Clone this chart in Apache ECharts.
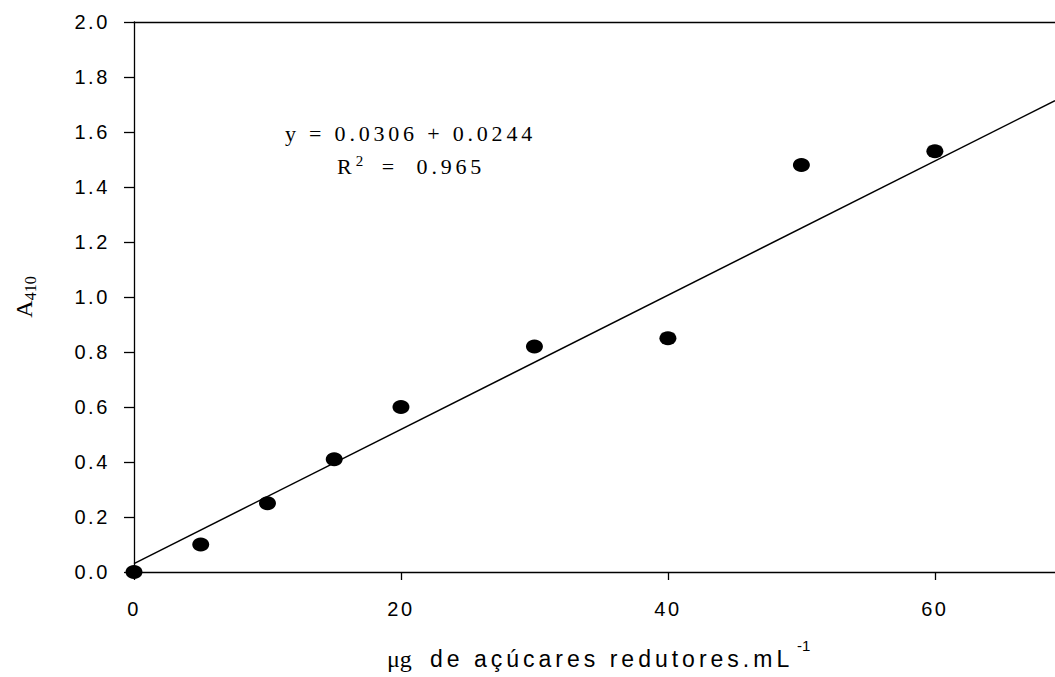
<!DOCTYPE html>
<html>
<head>
<meta charset="utf-8">
<script src="https://cdn.jsdelivr.net/npm/echarts@6/dist/echarts.min.js"></script>
<style>
  html, body { margin: 0; padding: 0; background: #fff; }
  #chart { width: 1055px; height: 677px; }
  /* espacamento entre letras, como no original */
  #chart svg text[style*="20px"] { letter-spacing: 2.6px; }
  #chart svg text[style*="23px"] { letter-spacing: 4px; }
  #chart svg text[style*="22px"] { letter-spacing: 3.8px; }
</style>
</head>
<body>
<div id="chart"></div>
<script>
// concentracao (ug/mL) e absorbancia medida
var conc = [0, 5, 10, 15, 20, 30, 40, 50, 60];
var absorb = [0.0, 0.10, 0.25, 0.41, 0.60, 0.82, 0.85, 1.48, 1.53];

// reta ajustada (pontos extremos)
var fitX = [0, 69];
var fitY = [0.0306, 1.714];

var xTicks = [0, 20, 40, 60];

var myChart = echarts.init(document.getElementById('chart'), null, { renderer: 'svg' });

var option = {
    animation: false,
    backgroundColor: '#fff',
    grid: { left: 134, right: 0, top: 22, bottom: 105 },
    xAxis: [{
        type: 'value',
        min: 0,
        max: 69,
        splitLine: { show: false },
        axisLine: { lineStyle: { color: '#000', width: 1.3 } },
        axisTick: { customValues: xTicks, length: 8, lineStyle: { color: '#000', width: 1.3 } },
        axisLabel: {
            customValues: xTicks,
            margin: 27,
            color: '#000',
            fontFamily: 'Liberation Sans',
            fontSize: 20
        }
    }, {
        // linha superior do quadro
        type: 'value',
        position: 'top',
        min: 0,
        max: 69,
        splitLine: { show: false },
        axisLine: { lineStyle: { color: '#000', width: 1.3 } },
        axisTick: { show: false },
        axisLabel: { show: false }
    }],
    yAxis: {
        type: 'value',
        min: 0,
        max: 2.0,
        interval: 0.2,
        splitLine: { show: false },
        axisLine: { show: true, lineStyle: { color: '#000', width: 1.3 } },
        axisTick: { show: true, length: 10, lineStyle: { color: '#000', width: 1.3 } },
        axisLabel: {
            margin: 24,
            color: '#000',
            fontFamily: 'Liberation Sans',
            fontSize: 20,
            formatter: function (v) { return v.toFixed(1); }
        },
        name: 'A{sub|410}',
        nameLocation: 'middle',
        nameGap: 96,
        nameTextStyle: {
            color: '#000',
            fontFamily: 'Liberation Serif',
            fontSize: 24,
            rich: {
                sub: { fontFamily: 'Liberation Serif', fontSize: 16, color: '#000', verticalAlign: 'bottom', padding: [12, 0, 0, 0] }
            }
        }
    },
    graphic: [{
        type: 'text',
        left: 285,
        top: 122,
        style: {
            text: 'y = 0.0306 + 0.0244',
            font: '22px "Liberation Serif"',
            fill: '#000'
        }
    }, {
        type: 'text',
        left: 337,
        top: 153,
        style: {
            text: 'R{sup|2}  =  0.965',
            font: '22px "Liberation Serif"',
            fill: '#000',
            rich: {
                sup: { font: '15px "Liberation Serif"', fill: '#000', padding: [0, 0, 12, 4] }
            }
        }
    },
    // titulo do eixo x, em pedacos por causa do espacamento
    {
        type: 'text',
        x: 387,
        y: 659,
        style: {
            text: '\u03bcg',
            font: '24px "Liberation Serif"',
            fill: '#000',
            verticalAlign: 'middle'
        }
    }, {
        type: 'text',
        x: 430,
        y: 659,
        style: {
            text: 'de açúcares redutores.mL',
            font: '23px "Liberation Sans"',
            fill: '#000',
            verticalAlign: 'middle'
        }
    }, {
        type: 'text',
        x: 797,
        y: 645,
        style: {
            text: '-1',
            font: '15px "Liberation Sans"',
            fill: '#000',
            verticalAlign: 'middle'
        }
    }],
    series: [{
        type: 'line',
        data: fitX.map(function (x, i) { return [x, fitY[i]]; }),
        symbol: 'none',
        lineStyle: { color: '#000', width: 1.5 },
        z: 2
    }, {
        type: 'scatter',
        data: conc.map(function (x, i) { return [x, absorb[i]]; }),
        symbol: 'circle',
        symbolSize: [17, 14],
        clip: false,
        itemStyle: { color: '#000', opacity: 1 },
        z: 3
    }]
};

myChart.setOption(option);
</script>
</body>
</html>
